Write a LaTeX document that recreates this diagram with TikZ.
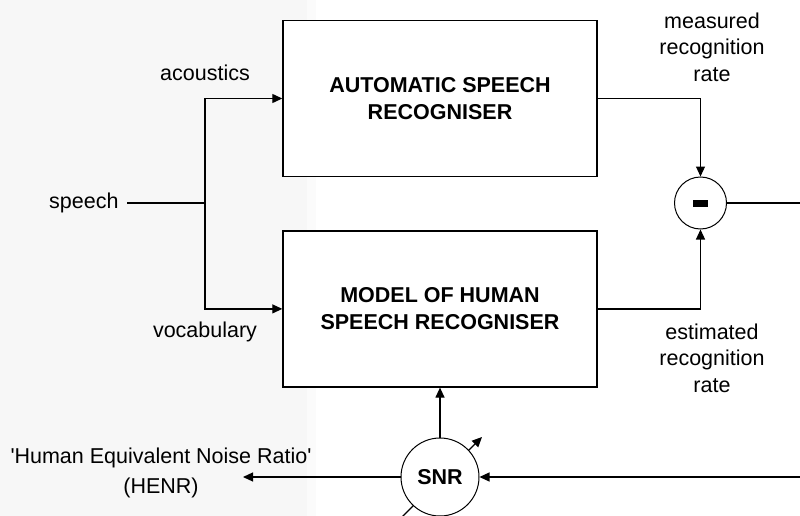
\documentclass[tikz,border=0pt]{standalone}
\usepackage{fontspec}
\setmainfont{Liberation Sans}[Ligatures=TeXOff]
\usetikzlibrary{arrows.meta}
\usetikzlibrary{positioning}

\begin{document}
\begin{tikzpicture}[x=1pt, y=-1pt,
		block/.style={rectangle,draw=black,line width=1.4pt,fill=white,minimum width=314pt,minimum height=156pt,align=center,font=\fontsize{21.5}{27}\selectfont\bfseries},
		lbl/.style={align=center,font=\fontsize{21.5}{26.5}\selectfont},
		junction/.style={circle,draw=black,line width=1pt,fill=white,inner sep=0pt},
		wire/.style={line width=1.2pt},
		sig/.style={wire,-{Triangle[length=10pt,width=9pt]}}]
		
		% background
		\useasboundingbox (0,0) rectangle (800,516);
		\fill[gray!6] (0,0) rectangle (307,516);
		\fill[gray!3] (307,0) rectangle (316,516);
		
		% node positions
		\node[block] (asr) at (440,98.5) {AUTOMATIC SPEECH\\RECOGNISER};
		\node[block, below = 53pt of asr] (hsr) {MODEL OF HUMAN\\SPEECH RECOGNISER};
		\node[lbl, anchor=east] (speech) at (122,203) {speech};
		\coordinate (split) at (205,203);
		\node[junction, minimum size=52pt] (minus) at (700.5,203) {};
		\node[fill=black, minimum width=15pt, minimum height=7pt, inner sep=0pt] (bar) at (minus) {};
		\coordinate (out) at (800,203);
		\coordinate (noise) at (800,477);
		\coordinate (henrtip) at (243,477);
		\coordinate (snrc) at (440,477);
		
		% variable snr
		\draw[sig] ([shift={(-40,42)}]snrc) -- ([shift={(42,-40)}]snrc);
		\node[junction, minimum size=78pt, font=\fontsize{21.5}{26}\selectfont\bfseries] (snr) at (snrc) {SNR};
		
		% labels
		\node[lbl] (acoustics) at (205,73) {acoustics};
		\node[lbl] (vocabulary) at (205,332) {vocabulary};
		\node[lbl] (measured) at (712,47) {measured\\recognition\\rate};
		\node[lbl] (estimated) at (712,358) {estimated\\recognition\\rate};
		\node[lbl] (henr) at (161,473) {'Human Equivalent Noise Ratio'\\[3pt](HENR)};
		
		% connections
		\draw[wire] ([xshift=5pt]speech.east) -- (split);
		\foreach \name in {asr,hsr}
		\draw[sig] (split) |- (\name.west);
		\foreach \name/\side in {asr/north,hsr/south}
		\draw[sig] (\name.east) -| (minus.\side);
		\draw[wire] (minus.east) -- (out);
		\draw[sig] (snr.north) -- (hsr.south);
		\draw[sig] (noise) -- (snr.east);
		\draw[sig] (snr.west) -- (henrtip);
		
	\end{tikzpicture}
\end{document}
